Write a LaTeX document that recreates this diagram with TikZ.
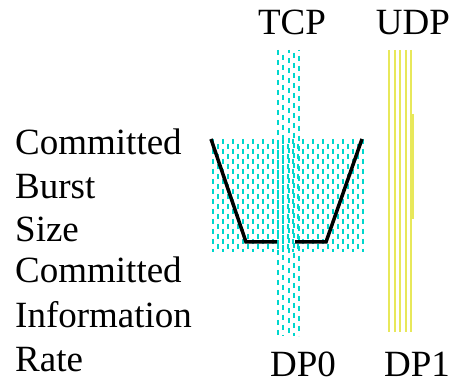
\documentclass[tikz,border=0pt]{standalone}
\usepackage{fontspec}
\setmainfont{Liberation Serif}
\definecolor{tcpcyan}{RGB}{0,215,205}
\definecolor{udpyellow}{RGB}{232,232,90}
\tikzset{
  lbl/.style={anchor=base west, inner sep=0pt, font=\fontsize{37}{44}\selectfont},
  tcpline/.style={draw=tcpcyan, line width=1.1pt, dash pattern=on 5pt off 5pt},
  udpline/.style={draw=udpyellow, line width=2pt},
  bucket/.style={draw=black, line width=3.5pt}
}
\begin{document}
\begin{tikzpicture}[x=1pt, y=-1pt]
\useasboundingbox (0,0) rectangle (451,385);
% bucket area
\foreach \i in {0,...,30} {
  \pgfmathsetmacro{\xx}{213+5*\i}
  \pgfmathsetmacro{\ph}{mod(\i,2)*5}
  \draw[tcpline, dash phase=\ph pt] (\xx,139) -- (\xx,252);
}
% TCP stream
\foreach \xx/\ph in {278/0, 283/5, 289/2, 294/7, 299/4}
  \draw[tcpline, dash phase=\ph pt] (\xx,50) -- (\xx,336);
% UDP stream
\foreach \xx in {389,395,400,406,411}
  \draw[udpline] (\xx,50) -- (\xx,332);
\draw[udpline] (413,114) -- (413,219);
% bucket
\draw[bucket] (211,139) -- (246,242) -- (277,242);
\draw[bucket] (295,242) -- (326,242) -- (362,139);
% labels
\node[lbl] (cbs1) at (15,155) {Committed};
\node[lbl] (cbs2) at (15,199) {Burst};
\node[lbl] (cbs3) at (15,242) {Size};
\node[lbl] (cir1) at (15,283) {Committed};
\node[lbl] (cir2) at (15,328) {Information};
\node[lbl] (cir3) at (15,372) {Rate};
\node[lbl, anchor=base] (tcp) at (292,35) {TCP};
\node[lbl, anchor=base] (udp) at (413,35) {UDP};
\node[lbl, anchor=base] (dp0) at (303,377) {DP0};
\node[lbl, anchor=base] (dp1) at (417,377) {DP1};
\end{tikzpicture}
\end{document}
